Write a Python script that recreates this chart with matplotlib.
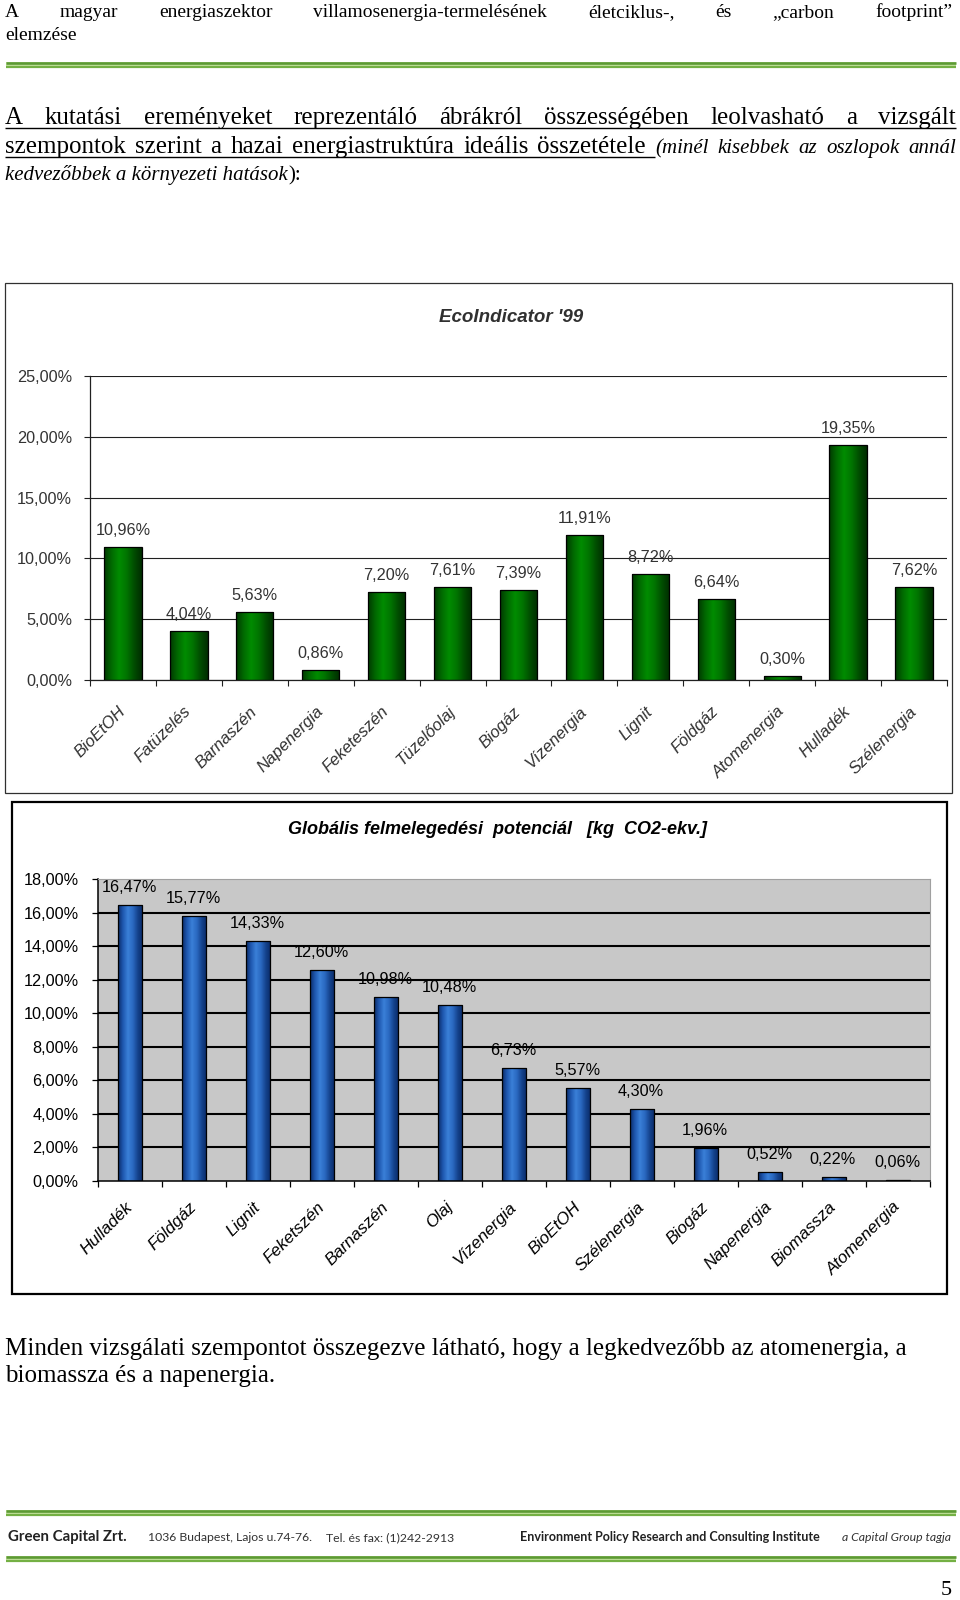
import numpy as np
import matplotlib
matplotlib.use('Agg')
import matplotlib.pyplot as plt
from matplotlib.colors import LinearSegmentedColormap
from matplotlib.patches import Rectangle
from matplotlib.lines import Line2D
from matplotlib.ticker import FuncFormatter

# ---------------- data ----------------
eco_categories = ['BioEtOH', 'Fatüzelés', 'Barnaszén', 'Napenergia', 'Feketeszén',
                  'Tüzelőolaj', 'Biogáz', 'Vízenergia', 'Lignit', 'Földgáz',
                  'Atomenergia', 'Hulladék', 'Szélenergia']
eco_values = [10.96, 4.04, 5.63, 0.86, 7.20, 7.61, 7.39, 11.91, 8.72, 6.64, 0.30, 19.35, 7.62]
eco_yticks = [0, 5, 10, 15, 20, 25]

gwp_categories = ['Hulladék', 'Földgáz', 'Lignit', 'Feketszén', 'Barnaszén', 'Olaj',
                  'Vízenergia', 'BioEtOH', 'Szélenergia', 'Biogáz', 'Napenergia',
                  'Biomassza', 'Atomenergia']
gwp_values = [16.47, 15.77, 14.33, 12.60, 10.98, 10.48, 6.73, 5.57, 4.30, 1.96, 0.52, 0.22, 0.06]
gwp_yticks = [0, 2, 4, 6, 8, 10, 12, 14, 16, 18]

eco_title = "EcoIndicator '99"
gwp_title = "Globális felmelegedési  potenciál   [kg  CO2-ekv.]"

# ---------------- page setup ----------------
W, H, DPI = 960, 1600, 100
fig = plt.figure(figsize=(W / DPI, H / DPI), dpi=DPI)
fig.patch.set_facecolor('white')
renderer = fig.canvas.get_renderer()

SERIF = 'Liberation Serif'
SANS = 'Liberation Sans'


def fx(x):
    return x / W


def fy(y):
    return 1 - y / H


def put(x, y, s, **kw):
    kw.setdefault('va', 'baseline')
    return fig.text(fx(x), fy(y), s, **kw)


def justify(runs, x0, x1, ybase):
    texts = [put(0, ybase, w, **p) for w, p in runs]
    widths = [t.get_window_extent(renderer).width for t in texts]
    gap = (x1 - x0 - sum(widths)) / (len(texts) - 1)
    x = x0
    pos = []
    for t, w in zip(texts, widths):
        t.set_position((fx(x), fy(ybase)))
        pos.append((x, x + w))
        x += w + gap
    return pos, gap


def hline(x0, x1, y, lw_px, color):
    fig.add_artist(Line2D([fx(x0), fx(x1)], [fy(y), fy(y)], lw=lw_px * 72 / DPI,
                          color=color, transform=fig.transFigure, solid_capstyle='butt'))


def green_rule(y_top, y_bot):
    hline(6, 956, (y_top + y_bot) / 2, (y_bot - y_top) + 2, '#c3e09c')
    hline(6, 956, y_top, 2.6, '#5c9a34')
    hline(6, 956, y_bot, 2.2, '#74b044')


# ---------------- header ----------------
hdr = dict(family=SERIF, fontsize=14, color='black')
justify([(w, hdr) for w in ['A', 'magyar', 'energiaszektor', 'villamosenergia-termelésének',
                             'életciklus-,', 'és', '„carbon', 'footprint”']], 5, 952, 17)
put(5, 40, 'elemzése', **hdr)
green_rule(63, 67)

# ---------------- intro paragraph ----------------
body = dict(family=SERIF, fontsize=18, color='black')
ital = dict(family=SERIF, fontsize=15, style='italic', color='black')
line1 = 'A kutatási ereményeket reprezentáló ábrákról összességében leolvasható a vizsgált'.split()
justify([(w, body) for w in line1], 5, 956, 124)
hline(5, 956, 128, 1.4, 'black')
line2a = 'szempontok szerint a hazai energiastruktúra ideális összetétele'.split()
line2b = '(minél kisebbek az oszlopok annál'.split()
pos, gap = justify([(w, body) for w in line2a] + [(w, ital) for w in line2b], 5, 956, 153)
hline(5, pos[len(line2a) - 1][1] + gap, 157, 1.4, 'black')
t3 = put(5, 180, 'kedvezőbbek a környezeti hatások', **ital)
w3 = t3.get_window_extent(renderer).width
put(5 + w3 + 1, 180, '):', **dict(family=SERIF, fontsize=15, color='black'))

# ---------------- helpers for charts ----------------
pct = FuncFormatter(lambda v, p: f'{v:.2f}'.replace('.', ',') + '%')
green_cmap = LinearSegmentedColormap.from_list(
    'g', ['#003800', '#006a00', '#008c00', '#007400', '#004c00', '#002c00'])
blue_cmap = LinearSegmentedColormap.from_list(
    'b', ['#0a2a66', '#1f58b0', '#3a80d8', '#2a68c0', '#14428c', '#0a2a66'])
grad = np.linspace(0, 1, 256).reshape(1, -1)


def gradient_fill(ax, bars, cmap):
    for b in bars:
        x, y, w, h = b.get_x(), b.get_y(), b.get_width(), b.get_height()
        im = ax.imshow(grad, extent=(x, x + w, y, y + h), aspect='auto', cmap=cmap,
                       interpolation='bilinear', zorder=2.5)
        im.set_clip_path(b)


def ax_rect(x0, y0, x1, y1):
    return [fx(x0), fy(y1), (x1 - x0) / W, (y1 - y0) / H]


# ---------------- chart 1: EcoIndicator '99 ----------------
fig.add_artist(Rectangle((fx(5), fy(793)), (952 - 5) / W, (793 - 283) / H,
                         transform=fig.transFigure, fill=False, lw=0.9, ec='#303030'))
put(511, 322, eco_title, family=SANS, fontsize=13.5, weight='bold', style='italic',
    color='#303030', ha='center')

ax1 = fig.add_axes(ax_rect(90, 376, 947, 680))
x1 = np.arange(len(eco_categories))
bars1 = ax1.bar(x1, eco_values, width=0.565, facecolor='none', edgecolor='black', lw=0.9, zorder=3)
gradient_fill(ax1, bars1, green_cmap)
ax1.set_xlim(-0.5, len(eco_categories) - 0.5)
ax1.set_ylim(0, 25)
ax1.set_yticks(eco_yticks)
ax1.yaxis.set_major_formatter(pct)
ax1.set_axisbelow(True)
ax1.grid(axis='y', color='#202020', lw=0.8)
for s in ['top', 'right']:
    ax1.spines[s].set_visible(False)
for s in ['left', 'bottom']:
    ax1.spines[s].set_color('#202020')
    ax1.spines[s].set_linewidth(0.9)
ax1.set_xticks(x1)
ax1.set_xticklabels(eco_categories, rotation=45, ha='right', va='center',
                    rotation_mode='anchor', fontstyle='italic', family=SANS,
                    fontsize=12, color='#303030')
ax1.tick_params(axis='x', which='major', length=0, pad=21)
ax1.set_xticks(np.arange(-0.5, len(eco_categories), 1), minor=True)
ax1.tick_params(axis='x', which='minor', length=4, width=0.8, color='#202020', direction='out')
ax1.tick_params(axis='y', length=4, width=0.8, color='#202020', pad=9, labelsize=11.7,
                labelcolor='#333333')
for lab in ax1.get_yticklabels():
    lab.set_family(SANS)
for xi, v in zip(x1, eco_values):
    ax1.annotate(f'{v:.2f}'.replace('.', ',') + '%', xy=(xi, v), xytext=(0, 12),
                 textcoords='offset pixels', ha='center', va='baseline',
                 family=SANS, fontsize=11.7, color='#333333')

# ---------------- chart 2: GWP ----------------
fig.add_artist(Rectangle((fx(12), fy(1294)), (947 - 12) / W, (1294 - 802) / H,
                         transform=fig.transFigure, fill=False, lw=1.6, ec='black'))
put(497, 834, gwp_title, family=SANS, fontsize=13, weight='bold', style='italic',
    color='black', ha='center')

ax2 = fig.add_axes(ax_rect(98, 879, 930, 1181))
ax2.set_facecolor('#c8c8c8')
x2 = np.arange(len(gwp_categories))
bars2 = ax2.bar(x2, gwp_values, width=0.39, facecolor='none', edgecolor='black', lw=0.9, zorder=3)
gradient_fill(ax2, bars2, blue_cmap)
ax2.set_xlim(-0.5, len(gwp_categories) - 0.5)
ax2.set_ylim(0, 18)
ax2.set_yticks(gwp_yticks)
ax2.yaxis.set_major_formatter(pct)
ax2.hlines(gwp_yticks[1:-1], -0.5, len(gwp_categories) - 0.5, color='black', lw=1.5, zorder=1)
for s in ['top', 'right']:
    ax2.spines[s].set_color('#a0a0a0')
    ax2.spines[s].set_linewidth(0.8)
for s in ['left', 'bottom']:
    ax2.spines[s].set_color('black')
    ax2.spines[s].set_linewidth(1.1)
ax2.set_xticks(x2)
ax2.set_xticklabels(gwp_categories, rotation=45, ha='right', va='center',
                    rotation_mode='anchor', fontstyle='italic', family=SANS,
                    fontsize=12.3, color='black')
ax2.tick_params(axis='x', which='major', length=0, pad=17)
ax2.set_xticks(np.arange(-0.5, len(gwp_categories), 1), minor=True)
ax2.tick_params(axis='x', which='minor', length=4, width=0.9, color='black', direction='out')
ax2.tick_params(axis='y', length=4, width=0.9, color='black', pad=10, labelsize=11.7,
                labelcolor='black')
for lab in ax2.get_yticklabels():
    lab.set_family(SANS)
for xi, v in zip(x2, gwp_values):
    ax2.annotate(f'{v:.2f}'.replace('.', ',') + '%', xy=(xi, v), xytext=(-1, 13),
                 textcoords='offset pixels', ha='center', va='baseline',
                 family=SANS, fontsize=11.7, color='black')

# ---------------- closing paragraph ----------------
put(5, 1355, 'Minden vizsgálati szempontot összegezve látható, hogy a legkedvezőbb az atomenergia, a', **body)
put(5, 1382, 'biomassza és a napenergia.', **body)

# ---------------- footer ----------------
green_rule(1511, 1515)
green_rule(1557, 1561)
FOOT = 'Lato'
put(8, 1541, 'Green Capital Zrt.', family=FOOT, fontsize=10.8, weight='bold', color='#222222')
put(148, 1541, '1036 Budapest, Lajos u.74-76.', family=FOOT, fontsize=8.8, color='#333333')
put(326, 1541, 'Tel. és fax: (1)242-2913', family=FOOT, fontsize=8.8, color='#333333')
put(520, 1541, 'Environment Policy Research and Consulting Institute', family=FOOT,
    fontsize=9.0, weight='bold', color='#222222')
put(842, 1541, 'a Capital Group tagja', family=FOOT, fontsize=8.8, style='italic',
    color='#333333')
put(952, 1595, '5', family=SERIF, fontsize=16, color='black', ha='right')

fig.savefig('out.png', dpi=DPI, facecolor='white')
